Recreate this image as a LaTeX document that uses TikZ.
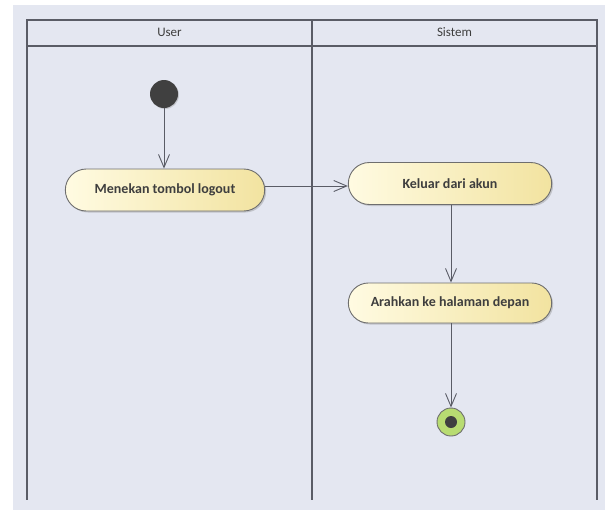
\documentclass[tikz,border=0pt]{standalone}
\usepackage{fontspec}
\setmainfont{Carlito}
\usetikzlibrary{arrows.meta,shadows,shapes.misc}
\definecolor{bgc}{HTML}{E4E7F1}
\definecolor{lanec}{HTML}{5A5C66}
\definecolor{txtc}{HTML}{3E3E3E}
\definecolor{fillL}{HTML}{FFFBE2}
\definecolor{fillR}{HTML}{F2E3A0}
\definecolor{bordc}{HTML}{6E6E6E}
\definecolor{endg}{HTML}{B8DC72}
\begin{document}
\begin{tikzpicture}[x=1pt,y=-1pt,
  lane/.style={draw=lanec,line width=1.4pt},
  act/.style={rounded rectangle,draw=bordc,line width=0.9pt,left color=fillL,right color=fillR,
    minimum height=42pt,text=txtc,font=\bfseries\fontsize{14}{16}\selectfont,
    drop shadow={shadow xshift=1.5pt,shadow yshift=-1.5pt,opacity=0.35}},
  flow/.style={draw=lanec,line width=0.9pt,-{Straight Barb[length=13pt,width=11pt,line width=0.9pt]}},
  hdr/.style={text=txtc,font=\fontsize{13}{15}\selectfont}]
\useasboundingbox (0,0) rectangle (609,515);
\fill[white] (0,0) rectangle (609,515);
\fill[bgc] (13,5) rectangle (605,510);
% swimlanes
\draw[lane] (27,20) rectangle (597,46);
\draw[lane] (27,46) -- (27,500);
\draw[lane] (312,20) -- (312,500);
\draw[lane] (597,46) -- (597,500);
\node[hdr] (huser) at (169.5,32) {User};
\node[hdr] (hsys) at (454.5,32) {Sistem};
% nodes
\node[circle,fill=black!75,minimum size=28pt,inner sep=0pt,
  drop shadow={shadow xshift=1pt,shadow yshift=-1pt,opacity=0.3}] (start) at (164,94) {};
\node[act,minimum width=206pt] (a1) at (165,190) {Menekan tombol logout};
\node[act,minimum width=210pt] (a2) at (450,183.5) {Keluar dari akun};
\node[act,minimum width=210pt,minimum height=40pt] (a3) at (450,303) {Arahkan ke halaman depan};
\node[circle,draw=bordc,line width=0.9pt,fill=endg,minimum size=28pt,inner sep=0pt] (end) at (451,422) {};
\node[circle,fill=black!75,minimum size=12pt,inner sep=0pt] (enddot) at (end) {};
% flows
\draw[flow] (start) -- (start |- a1.north);
\draw[flow] (a1.east |- 0,186) -- (a2.west |- 0,186);
\draw[flow] (451,0 |- a2.south) -- (451,0 |- a3.north);
\draw[flow] (451,0 |- a3.south) -- (end.north);
\end{tikzpicture}
\end{document}
